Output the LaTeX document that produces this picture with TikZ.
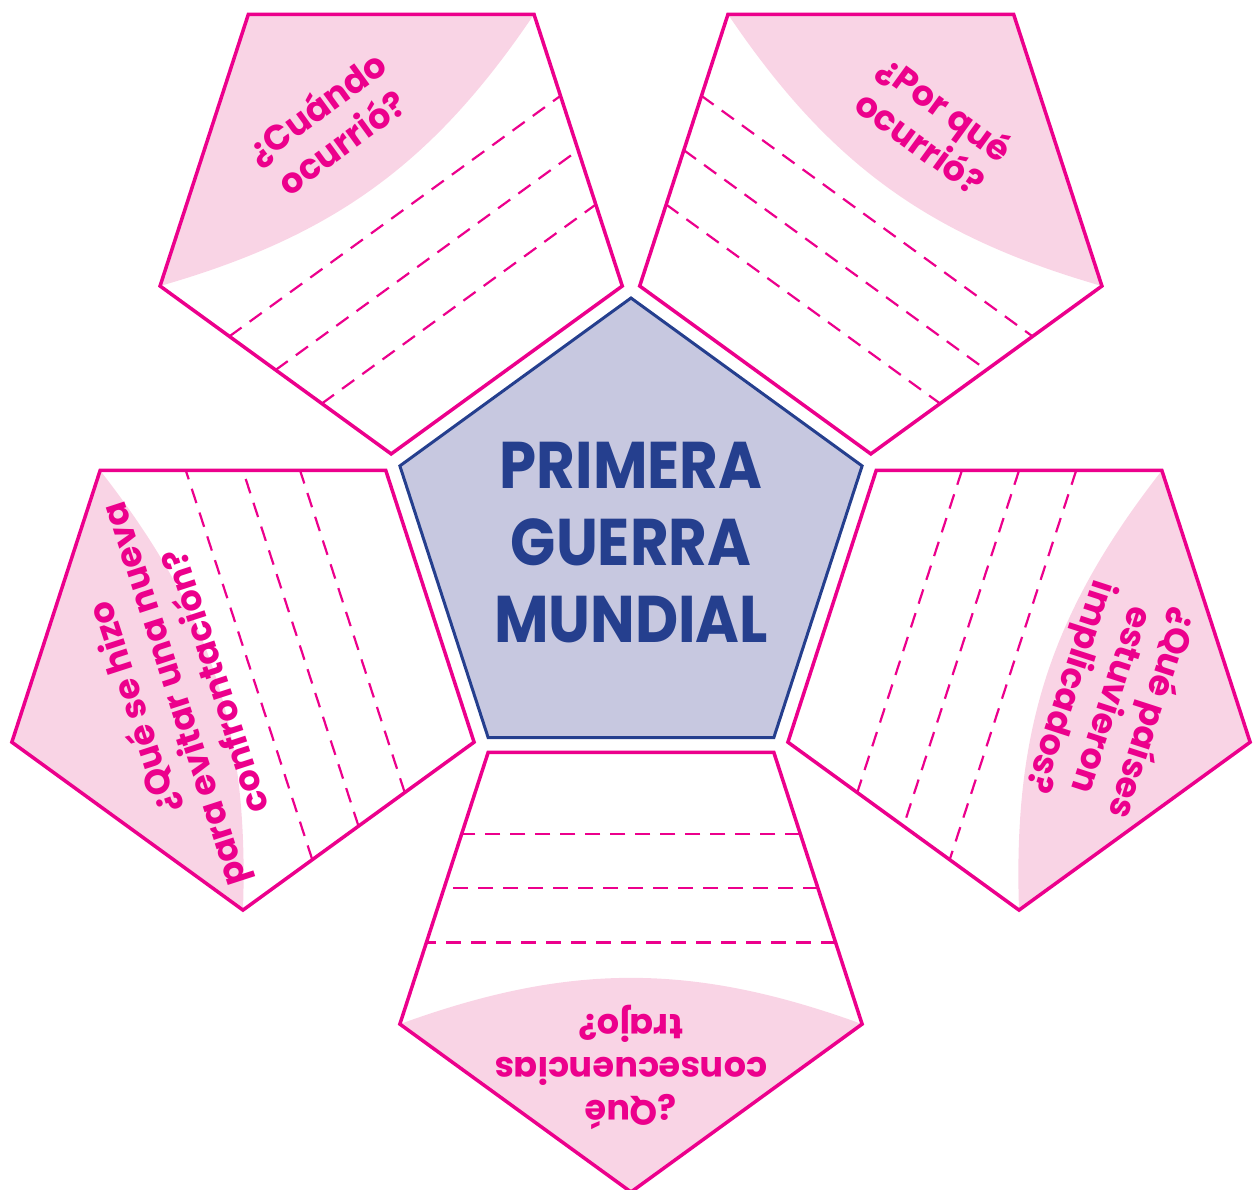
\documentclass[tikz,border=0pt]{standalone}
\usepackage{fontspec}
\setmainfont{Poppins}
\newfontfamily\titlefont{Poppins}[FakeStretch=0.9]
\usepackage{tikz}
\usetikzlibrary{calc}
\definecolor{pinkline}{HTML}{EC008C}
\definecolor{pinkfill}{HTML}{F9D4E5}
\definecolor{navyline}{HTML}{253F8E}
\definecolor{lilacfill}{HTML}{C7C8E0}
\tikzstyle{face} = [draw=pinkline, line width=3.5pt, line join=miter]

\begin{document}
\begin{tikzpicture}[
	x=1pt, y=1pt,
	question/.style={text=pinkline, font=\fontsize{35}{43}\selectfont\bfseries, align=center, inner sep=0pt},
	guide/.style={draw=pinkline, line width=2.2pt, dash pattern=on 15pt off 10pt},
	centre/.style={draw=navyline, fill=lilacfill, line width=3pt, line join=miter},
	title/.style={text=navyline, font=\titlefont\fontsize{66}{77}\selectfont\bfseries, align=center, inner sep=0pt}
]

\useasboundingbox (-631,-648) rectangle (622,541);

% Central pentagon
\draw[centre] (90:243) -- (162:243) -- (234:243) -- (306:243) -- (18:243) -- cycle;
\node[title] (guerra) at (0,-2) {PRIMERA\\GUERRA\\MUNDIAL};

% Outer pentagons, apex pointing away from the centre
\foreach \k/\ang/\offx/\offy/\txt in {
	1/126/0/107/{¿Cuándo\\ocurrió?},
	2/54/0/107/{¿Por qué\\ocurrió?},
	3/342/3/97/{¿Qué países\\estuvieron\\implicados?},
	4/270/0/118/{¿Qué\\consecuencias\\trajo?},
	5/198/-5/76/{¿Qué se hizo\\para evitar una nueva\\confrontación?}} {
\begin{scope}[shift={(\ang:408)}, rotate=\ang-90]
	\coordinate (cara\k) at (0,0);
	\fill[pinkfill] (162:243) -- (90:243) -- (18:243) to[bend left=20] cycle;
	\foreach \t in {0.3, 0.5, 0.7}
		\draw[guide] ($(234:243)!\t!(162:243)$) -- ($(306:243)!\t!(18:243)$);
	\node[question, rotate=\ang-90] (preg\k) at (\offx,\offy) {\txt};
	\draw[face] (90:243) -- (162:243) -- (234:243) -- (306:243) -- (18:243) -- cycle;
\end{scope}
}

\end{tikzpicture}
\end{document}
